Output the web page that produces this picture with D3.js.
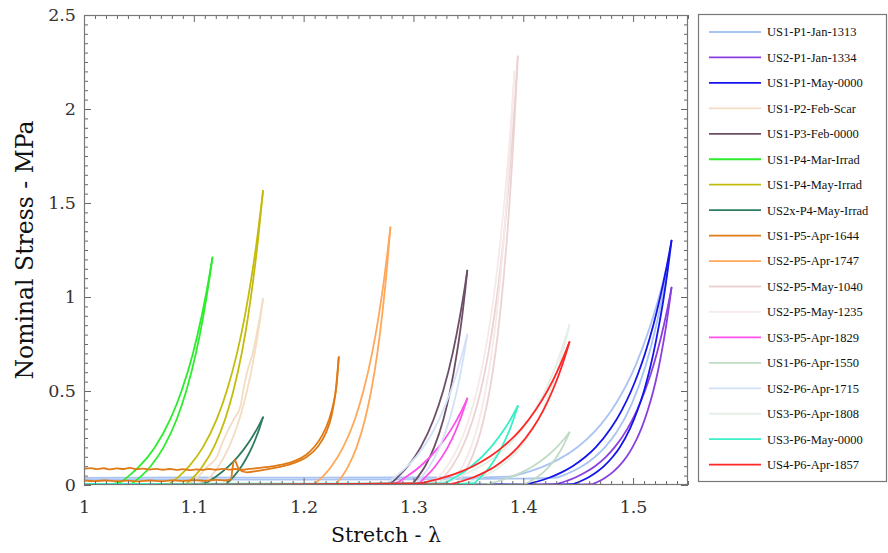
<!DOCTYPE html>
<html>
<head>
<meta charset="utf-8">
<script src="https://cdn.jsdelivr.net/npm/d3@7"></script>
<style>
  html, body { margin: 0; padding: 0; background: #fff; }
  svg { display: block; }
</style>
</head>
<body>
<svg id="chart" width="888" height="553"></svg>
<script>
// Specimen names (legend order = drawing order)
const seriesNames = [
  "US1-P1-Jan-1313", "US2-P1-Jan-1334", "US1-P1-May-0000", "US1-P2-Feb-Scar",
  "US1-P3-Feb-0000", "US1-P4-Mar-Irrad", "US1-P4-May-Irrad", "US2x-P4-May-Irrad",
  "US1-P5-Apr-1644", "US2-P5-Apr-1747", "US2-P5-May-1040", "US2-P5-May-1235",
  "US3-P5-Apr-1829", "US1-P6-Apr-1550", "US2-P6-Apr-1715", "US3-P6-Apr-1808",
  "US3-P6-May-0000", "US4-P6-Apr-1857"
];

const seriesColors = [
  "#a9c3f3", "#8a3ee0", "#1414ec", "#f3dcc2",
  "#6c4f66", "#2cec2c", "#c4bc0c", "#2e7d5e",
  "#df7a16", "#ffa85a", "#ecd3d3", "#f6e9e9",
  "#ff50ec", "#bfdbc3", "#d3e1f8", "#e4efe6",
  "#38efc6", "#ff2626"
];

// Loading / unloading loops: [stretch λ, nominal stress MPa], rising to the peak then falling back
const us1P1Jan1313 = [[1.000,0.038],[1.100,0.040],[1.200,0.039],[1.300,0.040],[1.350,0.041],
  [1.3878,0.045],[1.4016,0.065],[1.4169,0.095],[1.4318,0.135],[1.4502,0.205],[1.4651,0.285],[1.4845,0.435],[1.5022,0.635],[1.5150,0.835],[1.5252,1.035],[1.533,1.220],
  [1.5275,1.030],[1.5203,0.830],[1.5112,0.630],[1.4987,0.430],[1.4849,0.280],[1.4743,0.200],[1.4613,0.130],[1.4508,0.090],[1.4399,0.060],[1.4301,0.040],
  [1.400,0.034],[1.300,0.030],[1.200,0.029],[1.000,0.028]];
const us2P1Jan1334 = [[1.400,0.003],[1.4301,0.005],[1.4332,0.010],[1.4386,0.020],[1.4474,0.040],[1.4574,0.070],[1.4653,0.100],[1.4753,0.150],[1.4831,0.200],
  [1.4949,0.300],[1.5037,0.400],[1.5107,0.500],[1.5166,0.600],[1.5216,0.700],[1.5280,0.850],[1.5317,0.950],[1.535,1.050],
  [1.5327,0.950],[1.5302,0.850],[1.5258,0.700],[1.5224,0.600],[1.5184,0.500],[1.5135,0.400],[1.5075,0.300],[1.4994,0.200],[1.4941,0.150],
  [1.4872,0.100],[1.4818,0.070],[1.4749,0.040],[1.4689,0.020],[1.4652,0.010],[1.4631,0.005],[1.430,0.001]];
const us1P1May0000 = [[1.200,0.002],[1.300,0.003],[1.380,0.004],[1.4038,0.005],[1.4073,0.010],[1.4137,0.020],[1.4240,0.040],[1.4358,0.070],[1.4449,0.100],
  [1.4567,0.150],[1.4659,0.200],[1.4796,0.300],[1.4899,0.400],[1.4982,0.500],[1.5050,0.600],[1.5109,0.700],[1.5184,0.850],[1.5247,1.000],[1.5302,1.150],[1.535,1.300],
  [1.5317,1.150],[1.5280,1.000],[1.5236,0.850],[1.5185,0.700],[1.5145,0.600],[1.5099,0.500],[1.5042,0.400],[1.4972,0.300],[1.4878,0.200],[1.4815,0.150],
  [1.4735,0.100],[1.4672,0.070],[1.4592,0.040],[1.4521,0.020],[1.4478,0.010],[1.4454,0.005],[1.400,0.001]];
const us1P2FebScar = [[1.0965,0.010],[1.1048,0.050],[1.1128,0.100],[1.1210,0.150],[1.1244,0.200],[1.1295,0.270],[1.1364,0.350],[1.1425,0.420],[1.1449,0.500],
  [1.1485,0.600],[1.1536,0.700],[1.1588,0.850],[1.163,0.990],
  [1.1596,0.850],[1.1554,0.700],[1.1484,0.500],[1.1415,0.350],[1.1319,0.200],[1.1225,0.100],[1.1161,0.050],[1.1094,0.010]];
const us1P3Feb0000 = [[1.262,0.004],[1.2786,0.010],[1.2869,0.050],[1.2949,0.100],[1.3065,0.200],[1.3184,0.350],[1.3270,0.500],[1.3357,0.700],[1.3424,0.900],[1.3467,1.050],[1.349,1.140],
  [1.3474,1.050],[1.3444,0.900],[1.3395,0.700],[1.3334,0.500],[1.3273,0.350],[1.3188,0.200],[1.3106,0.100],[1.3049,0.050],[1.2990,0.010],[1.282,0.003]];
const us1P4MarIrrad = [[1.000,0.004],[1.020,0.005],[1.0312,0.010],[1.0411,0.050],[1.0506,0.100],[1.0644,0.200],[1.0786,0.350],[1.0888,0.500],[1.0992,0.700],[1.1072,0.900],[1.1138,1.100],[1.117,1.210],
  [1.1143,1.100],[1.1087,0.900],[1.1019,0.700],[1.0931,0.500],[1.0844,0.350],[1.0724,0.200],[1.0607,0.100],[1.0526,0.050],[1.0442,0.010]];
const us1P4MayIrrad = [[1.0785,0.010],[1.0873,0.050],[1.0958,0.100],[1.1082,0.200],[1.1209,0.350],[1.1300,0.500],[1.1393,0.700],[1.1465,0.900],[1.1524,1.100],[1.1574,1.300],[1.163,1.564],
  [1.1584,1.300],[1.1543,1.100],[1.1495,0.900],[1.1436,0.700],[1.1360,0.500],[1.1285,0.350],[1.1182,0.200],[1.1080,0.100],[1.1011,0.050],[1.0938,0.010]];
const us2xP4MayIrrad = [[1.102,0.005],[1.1107,0.010],[1.1165,0.030],[1.1215,0.050],[1.1318,0.100],[1.1400,0.150],[1.1468,0.200],[1.1526,0.250],[1.1577,0.300],[1.163,0.360],
  [1.1597,0.300],[1.1565,0.250],[1.1529,0.200],[1.1486,0.150],[1.1435,0.100],[1.1370,0.050],[1.1339,0.030],[1.1303,0.010]];
const us1P5Apr1644 = [[1.000,0.086],[1.006,0.090],[1.012,0.084],[1.018,0.089],[1.024,0.083],[1.030,0.088],[1.036,0.085],[1.042,0.091],[1.048,0.084],[1.054,0.087],
  [1.060,0.082],[1.066,0.086],[1.072,0.081],[1.078,0.085],[1.084,0.080],[1.090,0.084],[1.096,0.079],[1.102,0.083],[1.108,0.080],[1.114,0.085],
  [1.120,0.081],[1.126,0.086],[1.132,0.082],[1.138,0.085],[1.144,0.081],[1.150,0.086],[1.157,0.089],[1.165,0.095],[1.173,0.100],[1.180,0.108],
  [1.192,0.128],[1.202,0.160],[1.210,0.205],[1.217,0.265],[1.223,0.345],[1.227,0.430],[1.230,0.530],[1.232,0.680],
  [1.2305,0.580],[1.2285,0.470],[1.2255,0.370],[1.2205,0.280],[1.213,0.205],[1.203,0.150],[1.190,0.115],[1.175,0.092],[1.160,0.077],[1.148,0.067],
  [1.141,0.085],[1.137,0.133],[1.135,0.080],[1.134,0.030],[1.128,0.024],[1.120,0.027],[1.110,0.022],[1.100,0.026],[1.090,0.021],[1.080,0.025],
  [1.070,0.020],[1.060,0.024],[1.050,0.019],[1.040,0.023],[1.030,0.020],[1.020,0.024],[1.010,0.021],[1.000,0.024]];
const us2P5Apr1747 = [[1.2107,0.010],[1.2182,0.050],[1.2254,0.100],[1.2359,0.200],[1.2467,0.350],[1.2544,0.500],[1.2623,0.700],[1.2684,0.900],[1.2734,1.100],[1.2766,1.250],[1.279,1.370],
  [1.2773,1.250],[1.2750,1.100],[1.2714,0.900],[1.2671,0.700],[1.2615,0.500],[1.2559,0.350],[1.2482,0.200],[1.2407,0.100],[1.2356,0.050],[1.2302,0.010]];
const us2P5May1040 = [[1.300,0.004],[1.3221,0.010],[1.3288,0.050],[1.3353,0.100],[1.3446,0.200],[1.3542,0.350],[1.3612,0.500],[1.3682,0.700],[1.3736,0.900],[1.3781,1.100],
  [1.3819,1.300],[1.3852,1.500],[1.3881,1.700],[1.3907,1.900],[1.3931,2.100],[1.395,2.280],
  [1.3935,2.100],[1.3917,1.900],[1.3897,1.700],[1.3875,1.500],[1.3850,1.300],[1.3821,1.100],[1.3787,0.900],[1.3746,0.700],[1.3693,0.500],[1.3640,0.350],
  [1.3567,0.200],[1.3496,0.100],[1.3447,0.050],[1.3396,0.010],[1.320,0.003]];
const us2P5May1235 = [[1.3171,0.010],[1.3240,0.050],[1.3308,0.100],[1.3405,0.200],[1.3505,0.350],[1.3577,0.500],[1.3650,0.700],[1.3706,0.900],[1.3753,1.100],
  [1.3792,1.300],[1.3827,1.500],[1.3857,1.700],[1.3884,1.900],[1.392,2.200],
  [1.3892,1.900],[1.3871,1.700],[1.3848,1.500],[1.3822,1.300],[1.3791,1.100],[1.3756,0.900],[1.3712,0.700],[1.3656,0.500],[1.3601,0.350],[1.3524,0.200],
  [1.3449,0.100],[1.3397,0.050],[1.3344,0.010]];
const us3P5Apr1829 = [[1.000,0.003],[1.200,0.004],[1.270,0.006],[1.2832,0.010],[1.2950,0.050],[1.3063,0.100],[1.3228,0.200],[1.3348,0.300],[1.3442,0.400],[1.349,0.460],
  [1.3457,0.400],[1.3393,0.300],[1.3312,0.200],[1.3199,0.100],[1.3122,0.050],[1.3041,0.010],[1.292,0.004]];
const us1P6Apr1550 = [[1.333,0.003],[1.3667,0.005],[1.3704,0.010],[1.3769,0.020],[1.3874,0.040],[1.3995,0.070],[1.4089,0.100],[1.4210,0.150],[1.4303,0.200],[1.4380,0.250],[1.442,0.280],
  [1.4398,0.250],[1.4356,0.200],[1.4305,0.150],[1.4239,0.100],[1.4187,0.070],[1.4121,0.040],[1.4063,0.020],[1.4028,0.010],[1.4008,0.005],[1.370,0.002]];
const us2P6Apr1715 = [[1.251,0.005],[1.2746,0.010],[1.2848,0.050],[1.2946,0.100],[1.3089,0.200],[1.3235,0.350],[1.3340,0.500],[1.3422,0.650],[1.349,0.800],
  [1.3447,0.650],[1.3395,0.500],[1.3329,0.350],[1.3237,0.200],[1.3147,0.100],[1.3085,0.050],[1.3020,0.010],[1.279,0.004]];
const us3P6Apr1808 = [[1.300,0.003],[1.3162,0.005],[1.3201,0.010],[1.3271,0.020],[1.3384,0.040],[1.3513,0.070],[1.3614,0.100],[1.3743,0.150],[1.3844,0.200],[1.3995,0.300],
  [1.4108,0.400],[1.4199,0.500],[1.4274,0.600],[1.4338,0.700],[1.4394,0.800],[1.442,0.850],
  [1.4400,0.800],[1.4356,0.700],[1.4306,0.600],[1.4248,0.500],[1.4177,0.400],[1.4090,0.300],[1.3972,0.200],[1.3894,0.150],[1.3793,0.100],[1.3715,0.070],
  [1.3614,0.040],[1.3526,0.020],[1.3472,0.010],[1.3442,0.005],[1.320,0.002]];
const us3P6May0000 = [[1.000,0.006],[1.200,0.007],[1.300,0.008],[1.3281,0.010],[1.3348,0.030],[1.3407,0.050],[1.3528,0.100],[1.3704,0.200],[1.3832,0.300],[1.3904,0.370],[1.395,0.420],
  [1.3923,0.370],[1.3880,0.300],[1.3803,0.200],[1.3699,0.100],[1.3626,0.050],[1.3591,0.030],[1.3551,0.010],[1.330,0.005],[1.250,0.004]];
const us4P6Apr1857 = [[1.050,0.001],[1.150,0.003],[1.250,0.006],[1.290,0.008],[1.3066,0.010],[1.3147,0.020],[1.3278,0.040],[1.3427,0.070],[1.3543,0.100],[1.3693,0.150],
  [1.3808,0.200],[1.3984,0.300],[1.4114,0.400],[1.4219,0.500],[1.4306,0.600],[1.4380,0.700],[1.442,0.760],
  [1.4389,0.700],[1.4332,0.600],[1.4265,0.500],[1.4185,0.400],[1.4084,0.300],[1.3950,0.200],[1.3860,0.150],[1.3746,0.100],[1.3656,0.070],
  [1.3541,0.040],[1.3440,0.020],[1.3379,0.010],[1.3344,0.005],[1.290,0.003],[1.197,0.001]];

const seriesData = [
  us1P1Jan1313, us2P1Jan1334, us1P1May0000, us1P2FebScar,
  us1P3Feb0000, us1P4MarIrrad, us1P4MayIrrad, us2xP4MayIrrad,
  us1P5Apr1644, us2P5Apr1747, us2P5May1040, us2P5May1235,
  us3P5Apr1829, us1P6Apr1550, us2P6Apr1715, us3P6Apr1808,
  us3P6May0000, us4P6Apr1857
];

// Axis ticks and labels
const xTickValues = [1, 1.1, 1.2, 1.3, 1.4, 1.5];
const xTickLabels = ["1", "1.1", "1.2", "1.3", "1.4", "1.5"];
const yTickValues = [0, 0.5, 1, 1.5, 2, 2.5];
const yTickLabels = ["0", "0.5", "1", "1.5", "2", "2.5"];
const xTitle = "Stretch - λ";
const yTitle = "Nominal Stress - MPa";

// ---- layout ----
const plot = { left: 84, right: 688, top: 15, bottom: 485 };
const svg = d3.select("#chart");

const x = d3.scaleLinear().domain([1, 1.55]).range([plot.left, plot.right]);
const y = d3.scaleLinear().domain([0, 2.5]).range([plot.bottom, plot.top]);

const serif = "'DejaVu Serif', 'Liberation Serif', serif";

// clip the curves to the frame
svg.append("defs").append("clipPath").attr("id", "plotClip")
  .append("rect")
  .attr("x", plot.left).attr("y", plot.top)
  .attr("width", plot.right - plot.left).attr("height", plot.bottom - plot.top);

// ---- curves ----
const line = d3.line()
  .x(d => x(d[0]))
  .y(d => y(d[1]))
  .curve(d3.curveMonotoneX);

const curves = svg.append("g").attr("clip-path", "url(#plotClip)");

seriesData.forEach((pts, i) => {
  // split each loop at its peak into the rising and the falling branch
  const iPeak = d3.maxIndex(pts, d => d[1]);
  const up = pts.slice(0, iPeak + 1);
  const down = pts.slice(iPeak).reverse();
  [up, down].forEach(branch => {
    curves.append("path")
      .attr("d", line(branch))
      .attr("fill", "none")
      .attr("stroke", seriesColors[i])
      .attr("stroke-width", 1.8)
      .attr("stroke-linejoin", "round")
      .attr("stroke-linecap", "round");
  });
});

// ---- axes: ticks point inward on all four sides ----
const xMinor = d3.range(100, 156).map(v => v / 100).filter(v => Math.round(v * 100) % 10 !== 0);
const yMinor = d3.range(0, 51).map(v => v * 0.05).filter(v => Math.round(v * 100) % 50 !== 0);

function styleAxis(g) {
  g.select(".domain").remove();
  g.selectAll(".tick line").attr("stroke", "#666");
  g.selectAll(".tick text")
    .attr("font-family", serif)
    .attr("font-size", 17.5)
    .attr("fill", "#333");
}

// bottom
svg.append("g").attr("transform", `translate(0,${plot.bottom})`)
  .call(d3.axisBottom(x).tickValues(xTickValues)
    .tickFormat((d, i) => xTickLabels[i]).tickSize(-7).tickPadding(16))
  .call(styleAxis);
svg.append("g").attr("transform", `translate(0,${plot.bottom})`)
  .call(d3.axisBottom(x).tickValues(xMinor).tickFormat("").tickSize(-4))
  .call(styleAxis);
// top
svg.append("g").attr("transform", `translate(0,${plot.top})`)
  .call(d3.axisTop(x).tickValues(xTickValues).tickFormat("").tickSize(-7))
  .call(styleAxis);
svg.append("g").attr("transform", `translate(0,${plot.top})`)
  .call(d3.axisTop(x).tickValues(xMinor).tickFormat("").tickSize(-4))
  .call(styleAxis);
// left
svg.append("g").attr("transform", `translate(${plot.left},0)`)
  .call(d3.axisLeft(y).tickValues(yTickValues)
    .tickFormat((d, i) => yTickLabels[i]).tickSize(-7).tickPadding(8))
  .call(styleAxis);
svg.append("g").attr("transform", `translate(${plot.left},0)`)
  .call(d3.axisLeft(y).tickValues(yMinor).tickFormat("").tickSize(-4))
  .call(styleAxis);
// right
svg.append("g").attr("transform", `translate(${plot.right},0)`)
  .call(d3.axisRight(y).tickValues(yTickValues).tickFormat("").tickSize(-7))
  .call(styleAxis);
svg.append("g").attr("transform", `translate(${plot.right},0)`)
  .call(d3.axisRight(y).tickValues(yMinor).tickFormat("").tickSize(-4))
  .call(styleAxis);

// frame
svg.append("rect")
  .attr("x", plot.left + 0.5).attr("y", plot.top + 0.5)
  .attr("width", plot.right - plot.left - 1).attr("height", plot.bottom - plot.top - 1)
  .attr("fill", "none").attr("stroke", "#777").attr("stroke-width", 1.2);

// axis titles
svg.append("text")
  .attr("x", (plot.left + plot.right) / 2).attr("y", 542)
  .attr("text-anchor", "middle")
  .attr("font-family", serif).attr("font-size", 20.5).attr("fill", "#111")
  .text(xTitle);
svg.append("text")
  .attr("transform", `translate(33,${(plot.top + plot.bottom) / 2}) rotate(-90)`)
  .attr("text-anchor", "middle")
  .attr("font-family", serif).attr("font-size", 23.5).attr("fill", "#111")
  .text(yTitle);

// ---- legend ----
const legend = svg.append("g");
legend.append("rect")
  .attr("x", 698.5).attr("y", 14.5).attr("width", 188).attr("height", 467)
  .attr("fill", "#fff").attr("stroke", "#777").attr("stroke-width", 1.2);

seriesNames.forEach((name, i) => {
  const ly = 32 + i * 25.45;
  legend.append("line")
    .attr("x1", 709).attr("x2", 761).attr("y1", ly).attr("y2", ly)
    .attr("stroke", seriesColors[i]).attr("stroke-width", 1.8);
  legend.append("text")
    .attr("x", 767).attr("y", ly).attr("dy", "0.35em")
    .attr("font-family", "'Liberation Serif', serif").attr("font-size", 12.5)
    .attr("fill", "#111")
    .text(name);
});
</script>
</body>
</html>
